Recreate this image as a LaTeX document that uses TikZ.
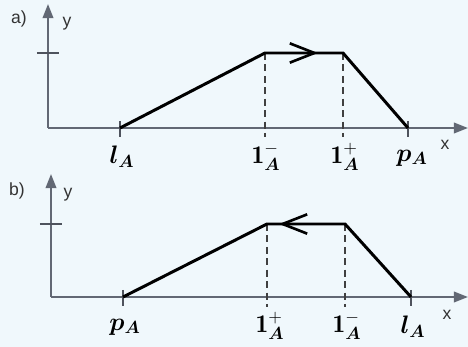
\documentclass[tikz,border=0pt]{standalone}
\usepackage{amsmath,bm}
\usepackage{fontspec}
\newfontfamily\axisfont{Liberation Sans}
\usetikzlibrary{arrows.meta,positioning,calc}
\definecolor{bgblue}{RGB}{240,248,252}
\definecolor{axisgray}{RGB}{98,104,116}

\begin{document}
\begin{tikzpicture}[x=0.02cm,y=-0.02cm,
  axis/.style={draw=axisgray,line width=1.1pt,-{Triangle[length=8pt,width=6pt]}},
  tickmark/.style={draw=axisgray!80!black,line width=1.1pt},
  graph/.style={line width=1.7pt,line join=miter},
  dir/.style={line width=1.5pt,-{Straight Barb[length=14pt,width=11pt]}},
  guide/.style={draw=black!75,line width=0.8pt,dash pattern=on 4pt off 2.5pt},
  lbl/.style={font=\fontsize{14.5}{14.5}\selectfont},
  ax/.style={font=\axisfont\fontsize{10}{11}\selectfont,text=black!80}]
  \useasboundingbox[fill=bgblue] (0,0) rectangle (468,347);

  % a)
  \coordinate (Oa) at (48,128);
  \coordinate (Ya) at (48,4);
  \coordinate (Xa) at (468,128);
  \coordinate (A1) at (120,128);
  \coordinate (A2) at (265,53);
  \coordinate (A3) at (343,53);
  \coordinate (A4) at (408,128);
  \coordinate (Ha) at (48,53);
  \draw[axis] (Oa) -- (Ya);
  \draw[axis] (Oa) -- (Xa);
  \draw[tickmark] ($(Ha)+(-11,0)$) -- ($(Ha)+(11,0)$);
  \draw[tickmark] ($(A1)+(0,-7)$) -- ($(A1)+(0,9)$);
  \draw[tickmark] ($(A4)+(0,-7)$) -- ($(A4)+(0,9)$);
  \draw[guide] (A2) -- ($(A2 |- Oa)+(0,9)$);
  \draw[guide] (A3) -- ($(A3 |- Oa)+(0,9)$);
  \draw[graph] (A1) -- (A2) -- (A3) -- (A4);
  \coordinate (da) at (290,53);
  \coordinate (ea) at (318,53);
  \draw[dir] (da) -- (ea);
  \node[ax] (a-lab) at (19,19) {a)};
  \node[ax] (a-y) at (67,24) {y};
  \node[ax] (a-x) at (445,145) {x};
  \node[lbl] (a-l) at (122,157) {$\bm{l}_{\bm{A}}$};
  \node[lbl] (a-m) at (266,157) {$\mathbf{1}^{-}_{\bm{A}}$};
  \node[lbl] (a-p) at (345,157) {$\mathbf{1}^{+}_{\bm{A}}$};
  \node[lbl] (a-r) at (412,158) {$\bm{p}_{\bm{A}}$};

  % b)
  \coordinate (Ob) at (51,297);
  \coordinate (Yb) at (51,174);
  \coordinate (Xb) at (468,297);
  \coordinate (B1) at (123,297);
  \coordinate (B2) at (267,224);
  \coordinate (B3) at (345,224);
  \coordinate (B4) at (411,297);
  \coordinate (Hb) at (51,224);
  \draw[axis] (Ob) -- (Yb);
  \draw[axis] (Ob) -- (Xb);
  \draw[tickmark] ($(Hb)+(-11,0)$) -- ($(Hb)+(11,0)$);
  \draw[tickmark] ($(B1)+(0,-7)$) -- ($(B1)+(0,9)$);
  \draw[tickmark] ($(B4)+(0,-7)$) -- ($(B4)+(0,9)$);
  \draw[guide] (B2) -- ($(B2 |- Ob)+(0,10)$);
  \draw[guide] (B3) -- ($(B3 |- Ob)+(0,10)$);
  \draw[graph] (B1) -- (B2) -- (B3) -- (B4);
  \coordinate (db) at (311,224);
  \coordinate (eb) at (279,224);
  \draw[dir] (db) -- (eb);
  \node[ax] (b-lab) at (17,191) {b)};
  \node[ax] (b-y) at (68,195) {y};
  \node[ax] (b-x) at (447,315) {x};
  \node[lbl] (b-r) at (125,327) {$\bm{p}_{\bm{A}}$};
  \node[lbl] (b-p) at (270,326) {$\mathbf{1}^{+}_{\bm{A}}$};
  \node[lbl] (b-m) at (347,326) {$\mathbf{1}^{-}_{\bm{A}}$};
  \node[lbl] (b-l) at (413,327) {$\bm{l}_{\bm{A}}$};
\end{tikzpicture}
\end{document}
